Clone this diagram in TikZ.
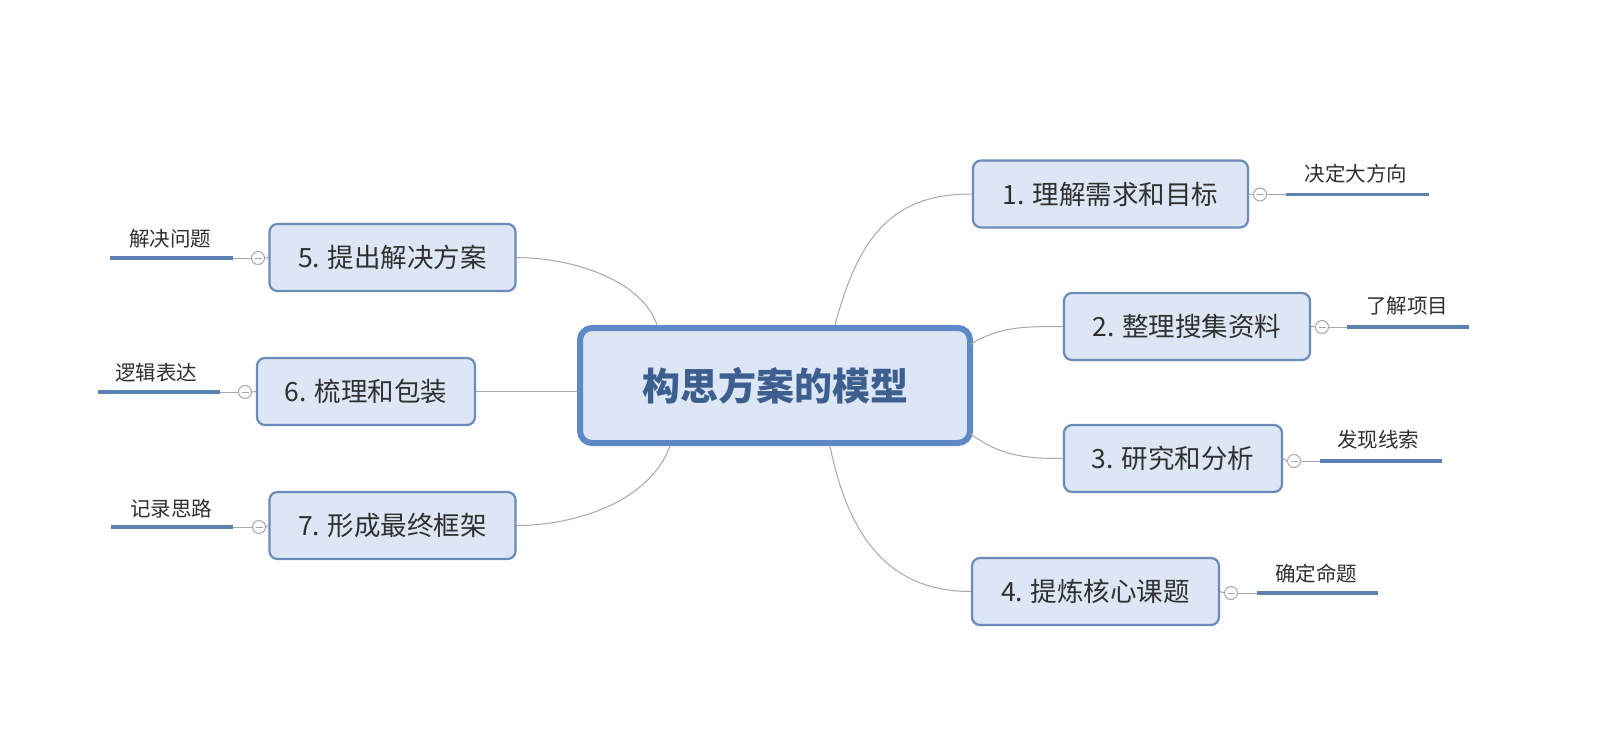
\documentclass[tikz,border=0pt]{standalone}
\usepackage{fontspec}
\setmainfont{Noto Sans CJK SC}
\usetikzlibrary{calc}
\definecolor{boxfill}{HTML}{DDE6F4}
\definecolor{boxdraw}{HTML}{6B8CB8}
\definecolor{cdraw}{HTML}{5F88C6}
\definecolor{ctext}{HTML}{3D5F8F}
\definecolor{btext}{HTML}{303030}
\definecolor{leafblue}{HTML}{5B80B4}
\definecolor{conn}{HTML}{A8A8A8}
\tikzset{
  central/.style={draw=cdraw, line width=6pt, fill=boxfill, rounded corners=12pt,
    minimum width=390pt, minimum height=115pt, text=ctext,
    font=\fontsize{38pt}{40pt}\selectfont\bfseries, inner sep=0pt},
  branch/.style={draw=boxdraw, line width=2.2pt, fill=boxfill, rounded corners=8pt,
    minimum height=67pt, text=btext, font=\fontsize{26.5pt}{28pt}\selectfont, inner sep=0pt},
  leaftext/.style={text=btext, font=\fontsize{20.5pt}{22pt}\selectfont, inner sep=0pt},
  knob/.style={circle, draw=conn, line width=1pt, fill=white, minimum size=13pt, inner sep=0pt,
    path picture={\draw[conn, line width=0.8pt] ($(path picture bounding box.west)+(3pt,0)$) -- ($(path picture bounding box.east)+(-3pt,0)$);}},
  link/.style={draw=conn, line width=1pt},
  leafline/.style={draw=leafblue, line width=3.5pt},
}
\begin{document}
\begin{tikzpicture}[x=1pt, y=-1pt]
\useasboundingbox[fill=white] (0,0) rectangle (1603,749);

% central
\node[central] (c) at (775,385.5) {构思方案的模型};

% branches
\node[branch, minimum width=275pt] (n1) at (1110.5,194) {1. 理解需求和目标};
\node[branch, minimum width=246pt] (n2) at (1187,326.5) {2. 整理搜集资料};
\node[branch, minimum width=218pt] (n3) at (1173,458.5) {3. 研究和分析};
\node[branch, minimum width=247pt] (n4) at (1095.5,591.5) {4. 提炼核心课题};
\node[branch, minimum width=246pt] (n5) at (392.5,257.5) {5. 提出解决方案};
\node[branch, minimum width=218pt] (n6) at (366,391.5) {6. 梳理和包装};
\node[branch, minimum width=246pt] (n7) at (392.5,525.5) {7. 形成最终框架};

% connectors from central to branches
\coordinate (s1) at ($(c.north)+(60,0)$);
\coordinate (s2) at ($(c.east)+(-3,-41)$);
\coordinate (s3) at ($(c.east)+(-3,48)$);
\coordinate (s4) at ($(c.south)+(55,0)$);
\coordinate (s5) at ($(c.north)+(-118,0)$);
\coordinate (s7) at ($(c.south)+(-105,0)$);
\draw[link] (s1) .. controls +(25,-95) and +(-75,0) .. (n1.west);
\draw[link] (s2) .. controls +(30,-18) and +(-40,0) .. (n2.west);
\draw[link] (s3) .. controls +(30,22) and +(-40,0) .. (n3.west);
\draw[link] (s4) .. controls +(20,100) and +(-75,0) .. (n4.west);
\draw[link] (s5) .. controls +(-15,-45) and +(55,0) .. (n5.east);
\draw[link] (c.west |- n6.east) -- (n6.east);
\draw[link] (s7) .. controls +(-20,55) and +(60,0) .. (n7.east);

% leaves, right side
\node[knob] (k1) at (1260,194.5) {};
\coordinate (a1) at (1286,194.5); \coordinate (b1) at (1429,194.5);
\draw[link] (n1.east) -- (k1.west); \draw[link] (k1.east) -- (a1);
\draw[leafline] (a1) -- (b1);
\node[leaftext] (t1) at (1356,174) {决定大方向};

\node[knob] (k2) at (1322,327) {};
\coordinate (a2) at (1347,327); \coordinate (b2) at (1469,327);
\draw[link] (n2.east) -- (k2.west); \draw[link] (k2.east) -- (a2);
\draw[leafline] (a2) -- (b2);
\node[leaftext] (t2) at (1407,306) {了解项目};

\node[knob] (k3) at (1294,461) {};
\coordinate (a3) at (1320,461); \coordinate (b3) at (1442,461);
\draw[link] (n3.east) -- (k3.west); \draw[link] (k3.east) -- (a3);
\draw[leafline] (a3) -- (b3);
\node[leaftext] (t3) at (1378,440) {发现线索};

\node[knob] (k4) at (1231,593) {};
\coordinate (a4) at (1257,593); \coordinate (b4) at (1378,593);
\draw[link] (n4.east) -- (k4.west); \draw[link] (k4.east) -- (a4);
\draw[leafline] (a4) -- (b4);
\node[leaftext] (t4) at (1316,574) {确定命题};

% leaves, left side
\node[knob] (k5) at (258,258) {};
\coordinate (a5) at (233,258); \coordinate (b5) at (110,258);
\draw[link] (n5.west) -- (k5.east); \draw[link] (k5.west) -- (a5);
\draw[leafline] (a5) -- (b5);
\node[leaftext] (t5) at (170,239) {解决问题};

\node[knob] (k6) at (245,392) {};
\coordinate (a6) at (220,392); \coordinate (b6) at (98,392);
\draw[link] (n6.west) -- (k6.east); \draw[link] (k6.west) -- (a6);
\draw[leafline] (a6) -- (b6);
\node[leaftext] (t6) at (156,373) {逻辑表达};

\node[knob] (k7) at (259,527) {};
\coordinate (a7) at (233,527); \coordinate (b7) at (111,527);
\draw[link] (n7.west) -- (k7.east); \draw[link] (k7.west) -- (a7);
\draw[leafline] (a7) -- (b7);
\node[leaftext] (t7) at (171,509) {记录思路};
\end{tikzpicture}
\end{document}
